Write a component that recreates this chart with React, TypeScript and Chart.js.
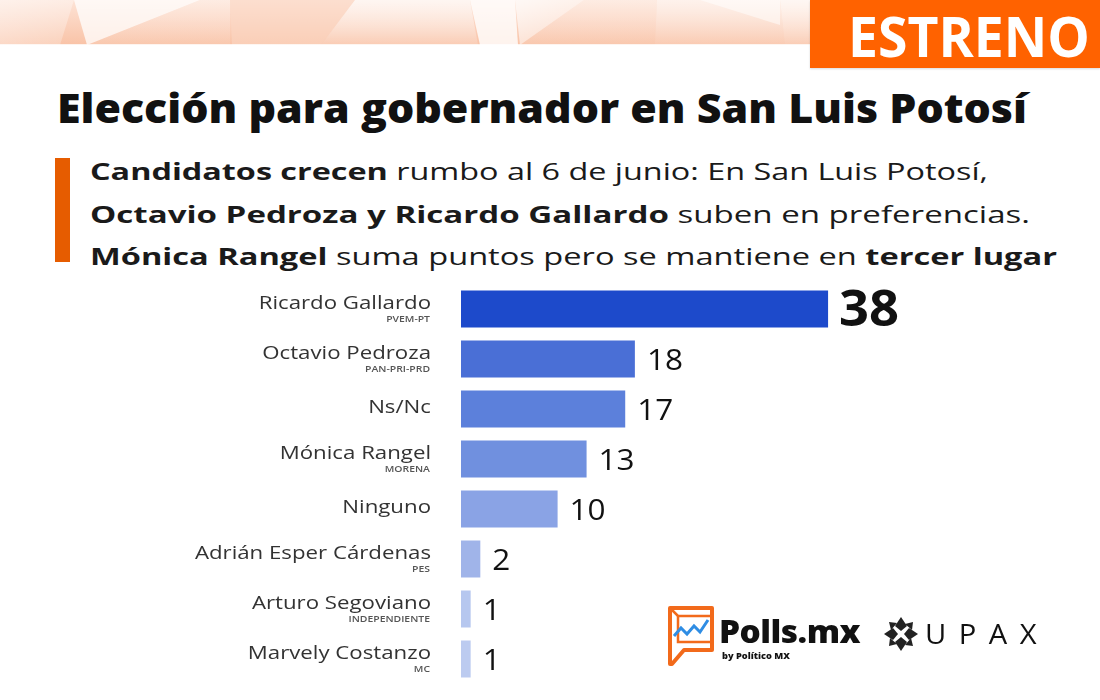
import React, { useEffect, useLayoutEffect, useRef } from "react";
import { Chart, registerables } from "chart.js";

Chart.register(...registerables);

const candidates = [
  "Ricardo Gallardo",
  "Octavio Pedroza",
  "Ns/Nc",
  "Mónica Rangel",
  "Ninguno",
  "Adrián Esper Cárdenas",
  "Arturo Segoviano",
  "Marvely Costanzo",
];
const parties = ["PVEM-PT", "PAN-PRI-PRD", "", "MORENA", "", "PES", "INDEPENDIENTE", "MC"];
const values = [38, 18, 17, 13, 10, 2, 1, 1];
const barColors = ["#1d4acb", "#4a6fd6", "#5c80db", "#7090df", "#8aa3e5", "#a0b4e9", "#b6c7ef", "#bccbf0"];

const FONT = "'Open Sans', 'DejaVu Sans', sans-serif";

function drawScaled(ctx: CanvasRenderingContext2D, text: string, x: number, y: number, sx: number, align: "left" | "right") {
  ctx.save();
  ctx.translate(x, y);
  ctx.scale(sx, 1);
  ctx.textAlign = align;
  ctx.fillText(text, 0, 0);
  ctx.restore();
}

const labelPlugin = {
  id: "customLabels",
  afterDatasetsDraw(chart: any) {
    const ctx: CanvasRenderingContext2D = chart.ctx;
    const yScale = chart.scales.y;
    const meta = chart.getDatasetMeta(0);
    ctx.save();
    ctx.textBaseline = "middle";
    candidates.forEach((name, i) => {
      const cy = yScale.getPixelForValue(i);
      const hasParty = parties[i] !== "";
      ctx.fillStyle = "#333333";
      ctx.font = `400 19px ${FONT}`;
      drawScaled(ctx, name, 431, hasParty ? cy - 5 : cy - 1, 1.17, "right");
      if (hasParty) {
        ctx.font = `600 8px ${FONT}`;
        ctx.fillStyle = "#555555";
        drawScaled(ctx, parties[i], 430, cy + 11, 1.3, "right");
      }
      const bar = meta.data[i];
      ctx.fillStyle = "#111111";
      if (i === 0) {
        ctx.font = `700 50px ${FONT}`;
        drawScaled(ctx, String(values[i]), bar.x + 11, cy + 3, 1.05, "left");
      } else {
        ctx.font = `400 30px ${FONT}`;
        drawScaled(ctx, String(values[i]), bar.x + 12, cy + 2, 1.05, "left");
      }
    });
    ctx.restore();
  },
};

function ChartCanvas() {
  const ref = useRef<HTMLCanvasElement | null>(null);
  useEffect(() => {
    if (!ref.current) return;
    const chart = new Chart(ref.current, {
      type: "bar",
      data: {
        labels: candidates,
        datasets: [
          {
            data: values,
            backgroundColor: barColors,
            borderWidth: 0,
            categoryPercentage: 1,
            barPercentage: 0.74,
          },
        ],
      },
      options: {
        indexAxis: "y",
        responsive: false,
        animation: false,
        devicePixelRatio: 1,
        layout: { padding: { left: 461, right: 156, top: 284, bottom: 16 } },
        plugins: { legend: { display: false }, tooltip: { enabled: false } },
        scales: {
          x: { display: false, min: 0, max: 50 },
          y: { display: false },
        },
      },
      plugins: [labelPlugin],
    });
    return () => chart.destroy();
  }, []);
  return <canvas ref={ref} width={1100} height={700} style={{ position: "absolute", left: 0, top: 0 }} />;
}

function FitText({ width, style, children }: { width: number; style?: React.CSSProperties; children: React.ReactNode }) {
  const ref = useRef<HTMLSpanElement | null>(null);
  useLayoutEffect(() => {
    const el = ref.current;
    if (!el) return;
    const fit = () => {
      el.style.transform = "none";
      const w = el.getBoundingClientRect().width;
      if (w > 0) el.style.transform = `scaleX(${width / w})`;
    };
    fit();
    if ((document as any).fonts && (document as any).fonts.ready) (document as any).fonts.ready.then(fit);
  }, [width]);
  return (
    <span ref={ref} style={{ display: "inline-block", whiteSpace: "nowrap", transformOrigin: "0 50%", ...style }}>
      {children}
    </span>
  );
}

export default function App() {
  useEffect(() => {
    document.body.style.margin = "0";
  }, []);
  const b: React.CSSProperties = { fontWeight: 700 };
  return (
    <div style={{ position: "fixed", left: 0, top: 0, width: 1100, height: 700, background: "#ffffff", overflow: "hidden", fontFamily: FONT, color: "#111" }}>
      <svg width={1100} height={46} style={{ position: "absolute", left: 0, top: 0 }}>
        <defs>
          <linearGradient id="bg" x1="0" y1="0" x2="0" y2="1">
            <stop offset="0" stopColor="#fde3d6" />
            <stop offset="1" stopColor="#f9c3a7" />
          </linearGradient>
          <linearGradient id="wh" x1="0" y1="0" x2="0" y2="1">
            <stop offset="0" stopColor="#ffffff" stopOpacity={0.9} />
            <stop offset="1" stopColor="#ffffff" stopOpacity={0.2} />
          </linearGradient>
          <linearGradient id="wh2" x1="0" y1="0" x2="1" y2="1">
            <stop offset="0" stopColor="#ffffff" stopOpacity={0.85} />
            <stop offset="1" stopColor="#ffffff" stopOpacity={0.35} />
          </linearGradient>
        </defs>
        <rect x={0} y={0} width={1100} height={45} fill="url(#bg)" />
        <polygon points="0,0 74,0 60,45 0,45" fill="url(#wh2)" opacity={0.6} />
        <polygon points="74,0 200,0 87,45" fill="#ffffff" opacity={0.75} />
        <polygon points="87,45 200,0 230,0 230,45" fill="url(#wh)" opacity={0.35} />
        <polygon points="230,0 355,0 321,45 232,45" fill="#fcd9c7" opacity={0.5} />
        <polygon points="355,0 470,0 478,45 321,45" fill="url(#wh)" opacity={0.75} />
        <polygon points="470,0 515,0 518,45 480,45" fill="#ffffff" opacity={0.8} />
        <polygon points="515,0 584,0 520,45" fill="url(#wh2)" opacity={0.9} />
        <polygon points="520,45 584,0 657,0 655,45" fill="url(#wh)" opacity={0.35} />
        <polygon points="657,0 780,0 785,45 655,45" fill="url(#wh)" opacity={0.6} />
        <polygon points="700,0 780,0 780,25" fill="#ffffff" opacity={0.5} />
        <polygon points="780,0 810,0 810,45 785,45" fill="url(#wh)" opacity={0.8} />
        <rect x={0} y={44} width={1100} height={2} fill="#ffffff" opacity={0.8} />
      </svg>
      <div style={{ position: "absolute", left: 810, top: 0, width: 290, height: 68, background: "#ff6200", boxShadow: "0 1px 2px rgba(0,0,0,0.15)" }} />
      <div style={{ position: "absolute", left: 848, top: 0, height: 70, color: "#fff", fontWeight: 700, fontSize: 56, lineHeight: "70px" }}>
        <FitText width={242}>ESTRENO</FitText>
      </div>
      <div style={{ position: "absolute", left: 57, top: 82, fontSize: 40, fontWeight: 800, lineHeight: "52px", color: "#111" }}>
        <FitText width={970}>Elección para gobernador en San Luis Potosí</FitText>
      </div>
      <div style={{ position: "absolute", left: 55, top: 158, width: 15, height: 104, background: "#e65c00" }} />
      <div style={{ position: "absolute", left: 90, top: 150, fontSize: 24, lineHeight: "42.5px", color: "#1a1a1a" }}>
        <div>
          <FitText width={898}>
            <span style={b}>Candidatos crecen</span> rumbo al 6 de junio: En San Luis Potosí,
          </FitText>
        </div>
        <div>
          <FitText width={940}>
            <span style={b}>Octavio Pedroza y Ricardo Gallardo</span> suben en preferencias.
          </FitText>
        </div>
        <div>
          <FitText width={967}>
            <span style={b}>Mónica Rangel</span> suma puntos pero se mantiene en <span style={b}>tercer lugar</span>
          </FitText>
        </div>
      </div>
      <ChartCanvas />
      <svg width={60} height={70} style={{ position: "absolute", left: 664, top: 602 }}>
        <path d="M6,6 L48,6 L48,48 L20,48 L8,62 L6,62 Z" fill="none" stroke="#f26a1b" strokeWidth={4} strokeLinejoin="round" />
        <path d="M6,6 L14,14 L48,14" fill="none" stroke="#f26a1b" strokeWidth={2.5} />
        <path d="M14,14 L14,40 L48,40" fill="none" stroke="#f26a1b" strokeWidth={2.5} />
        <path d="M10,34 L17,26 L23,32 L30,24 L36,30 L44,18" fill="none" stroke="#2f8de4" strokeWidth={3} />
      </svg>
      <div style={{ position: "absolute", left: 719, top: 611, fontSize: 32, fontWeight: 800, letterSpacing: -0.5, lineHeight: "40px", color: "#111" }}>
        <FitText width={141}>Polls.mx</FitText>
      </div>
      <div style={{ position: "absolute", left: 722, top: 650, fontSize: 9, fontWeight: 800, lineHeight: "12px", color: "#111" }}>
        <FitText width={68}>by Político MX</FitText>
      </div>
      <svg width={40} height={40} style={{ position: "absolute", left: 881, top: 614 }}>
        <g fill="#222">
          <path d="M20,3 L26,12 L20,17 L14,12 Z" />
          <path d="M37,20 L28,26 L23,20 L28,14 Z" />
          <path d="M20,37 L14,28 L20,23 L26,28 Z" />
          <path d="M3,20 L12,14 L17,20 L12,26 Z" />
          <path d="M8,8 L16,9 L10,16 Z" />
          <path d="M32,8 L31,16 L24,10 Z" />
          <path d="M32,32 L24,31 L30,24 Z" />
          <path d="M8,32 L9,24 L16,30 Z" />
        </g>
      </svg>
      <div style={{ position: "absolute", left: 925, top: 614, fontSize: 28, fontWeight: 400, letterSpacing: 12, lineHeight: "38px", color: "#111" }}>
        <FitText width={124}>UPAX</FitText>
      </div>
    </div>
  );
}
